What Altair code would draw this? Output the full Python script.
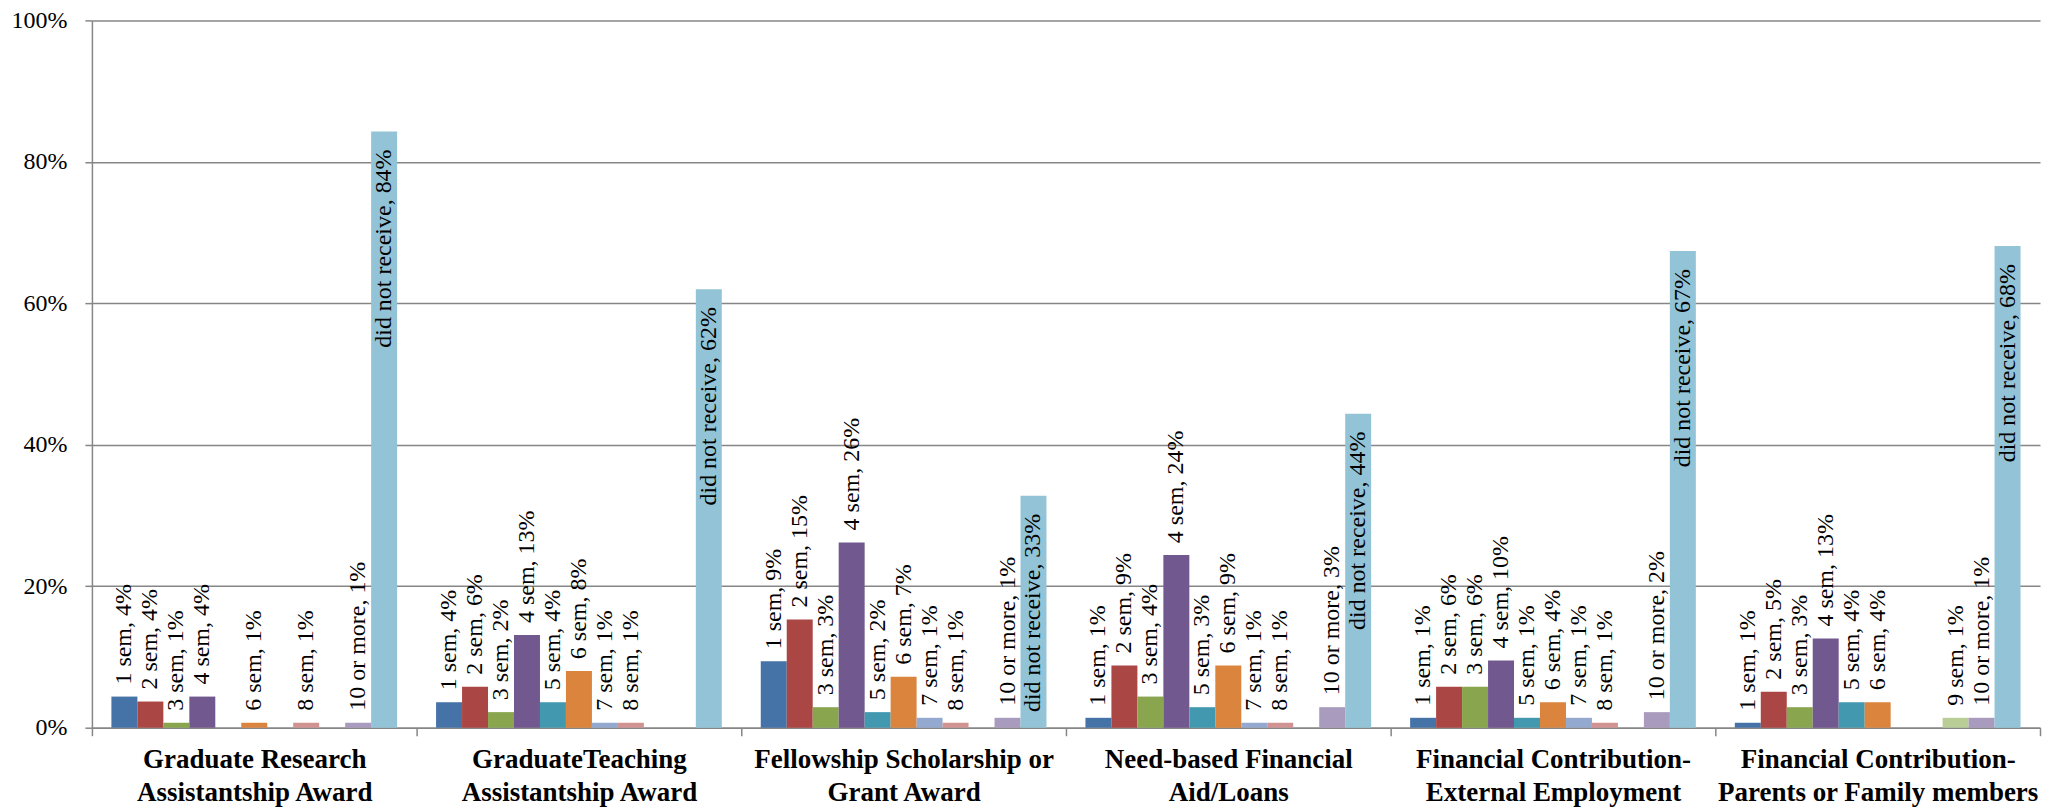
import altair as alt
import pandas as pd

categories = [
    "Graduate Research|Assistantship Award",
    "GraduateTeaching|Assistantship Award",
    "Fellowship Scholarship or|Grant Award",
    "Need-based Financial|Aid/Loans",
    "Financial Contribution-|External Employment",
    "Financial Contribution-|Parents or Family members",
]
series = ["1 sem", "2 sem", "3 sem", "4 sem", "5 sem", "6 sem", "7 sem",
          "8 sem", "9 sem", "10 or more", "did not receive"]
colors = ["#4572A7", "#AA4643", "#89A54E", "#71588F", "#4198AF", "#DB843D",
          "#93A9CF", "#D19392", "#B9CD96", "#A99BBD", "#92C3D6"]

gra_award = [4.4, 3.7, 0.7, 4.4, 0, 0.7, 0, 0.7, 0, 0.7, 84.3]
gta_award = [3.6, 5.8, 2.2, 13.1, 3.6, 8.0, 0.7, 0.7, 0, 0, 62.0]
fellowship = [9.4, 15.3, 2.9, 26.2, 2.2, 7.2, 1.4, 0.7, 0, 1.4, 32.8]
need_based = [1.4, 8.8, 4.4, 24.4, 2.9, 8.8, 0.7, 0.7, 0, 2.9, 44.4]
external_emp = [1.4, 5.8, 5.8, 9.5, 1.4, 3.6, 1.4, 0.7, 0, 2.2, 67.4]
parents_family = [0.7, 5.1, 2.9, 12.6, 3.6, 3.6, 0, 0, 1.4, 1.4, 68.1]

all_values = [gra_award, gta_award, fellowship, need_based, external_emp, parents_family]

rows = []
for cat, vals in zip(categories, all_values):
    for s, v in zip(series, vals):
        rows.append({"category": cat, "series": s, "value": v,
                     "label": f"{s}, {round(v)}%"})
df = pd.DataFrame(rows)

GRID = "#868686"

x_enc = alt.X(
    "category:N", sort=categories,
    scale=alt.Scale(paddingInner=0, paddingOuter=0),
    axis=alt.Axis(title=None, labelAngle=0, labelExpr="split(datum.label, '|')",
                  labelFont="Liberation Serif", labelFontWeight="bold",
                  labelFontSize=27, labelColor="black", labelLineHeight=33,
                  labelPadding=11, labelLimit=600, tickBand="extent", tickSize=8,
                  tickColor=GRID, tickWidth=1.5, domainColor=GRID, domainWidth=1.5,
                  grid=False, labelBaseline="top"),
)
xo_enc = alt.XOffset("series:N", sort=series,
                     scale=alt.Scale(paddingOuter=0.75, paddingInner=0))
y_enc = alt.Y(
    "value:Q",
    scale=alt.Scale(domain=[0, 100], nice=False),
    axis=alt.Axis(title=None, values=[0, 20, 40, 60, 80, 100],
                  labelExpr="datum.value + '%'", grid=True, gridColor=GRID,
                  gridWidth=1.5, domainColor=GRID, domainWidth=1.5,
                  tickColor=GRID, tickWidth=1.5, tickSize=7,
                  labelFont="Liberation Serif", labelFontSize=24,
                  labelColor="black", labelPadding=18),
)

base = alt.Chart(df).encode(x=x_enc, xOffset=xo_enc, y=y_enc)

bars = base.mark_bar().encode(
    color=alt.Color("series:N", sort=series,
                    scale=alt.Scale(domain=series, range=colors), legend=None)
)

labels = base.transform_filter(
    "datum.value > 0 && datum.series != 'did not receive'"
).mark_text(angle=270, align="left", baseline="middle", dx=12,
            font="Liberation Serif", fontSize=24, color="black").encode(text="label:N")

labels_dnr = base.transform_filter(
    "datum.series == 'did not receive'"
).mark_text(angle=270, align="right", baseline="middle", dx=-18,
            font="Liberation Serif", fontSize=24, color="black").encode(text="label:N")

chart = alt.layer(bars, labels, labels_dnr).properties(
    width=1950, height=708,
    autosize=alt.AutoSizeParams(type="none"),
    padding={"left": 84, "top": 12, "right": 5, "bottom": 110},
).configure_view(stroke=None)

chart.save("out.html", embed_options={"renderer": "svg", "actions": False})
